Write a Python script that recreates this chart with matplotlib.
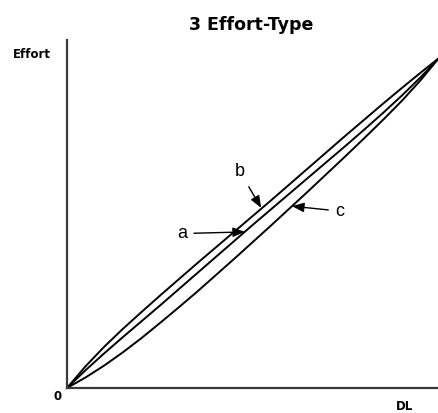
import matplotlib.pyplot as plt

# --- data (DL vs Effort, both scaled 0..1) ---
dl = [0.0, 0.05, 0.1, 0.15, 0.2, 0.25, 0.3, 0.35, 0.4, 0.45, 0.5,
      0.55, 0.6, 0.65, 0.7, 0.75, 0.8, 0.85, 0.9, 0.95, 1.0]
effort_a = [0.0, 0.054, 0.105, 0.154, 0.202, 0.250, 0.299, 0.348, 0.397, 0.446, 0.495,
            0.543, 0.591, 0.639, 0.687, 0.735, 0.784, 0.834, 0.886, 0.941, 1.0]
effort_b = [0.0, 0.066, 0.125, 0.179, 0.230, 0.280, 0.329, 0.378, 0.426, 0.474, 0.522,
            0.570, 0.619, 0.668, 0.717, 0.766, 0.814, 0.862, 0.909, 0.955, 1.0]
effort_c = [0.0, 0.032, 0.068, 0.108, 0.151, 0.197, 0.244, 0.292, 0.342, 0.392, 0.443,
            0.494, 0.546, 0.598, 0.651, 0.704, 0.758, 0.813, 0.870, 0.932, 1.0]

title = '3 Effort-Type'
y_label = 'Effort'
x_label = 'DL'

W, H = 439, 413
fig = plt.figure(figsize=(W / 100, H / 100), dpi=100)
ax = fig.add_axes([67 / W, 25 / H, 372 / W, 348 / H])

ax.set_xlim(0, 1)
ax.set_ylim(0, 348 / 330)

for ys in (effort_a, effort_b, effort_c):
    ax.plot(dl, ys, color='black', lw=1.4, clip_on=False,
            solid_capstyle='round', solid_joinstyle='round')

for side in ('top', 'right'):
    ax.spines[side].set_visible(False)
for side in ('left', 'bottom'):
    ax.spines[side].set_color('#3a3a3a')
    ax.spines[side].set_linewidth(1.6)
ax.set_xticks([])
ax.set_yticks([])

# curve labels with arrows
arrow = dict(arrowstyle='-|>,head_length=0.55,head_width=0.22', color='black',
             lw=1.0, shrinkA=3, shrinkB=0)
lab_font = dict(family='Liberation Sans', fontsize=13, color='black',
                ha='center', va='center')
ax.annotate('a', xy=(0.478, 0.473), xytext=(0.309, 0.468), arrowprops=arrow, **lab_font)
ax.annotate('b', xy=(0.522, 0.546), xytext=(0.465, 0.655), arrowprops=arrow, **lab_font)
ax.annotate('c', xy=(0.605, 0.551), xytext=(0.733, 0.536), arrowprops=arrow, **lab_font)

# titles / axis words placed like the reference
fig.text(251 / W, 1 - 25 / H, title, ha='center', va='center',
         fontsize=12.5, fontweight='bold')
fig.text(32 / W, 1 - 55 / H, y_label, ha='center', va='center',
         fontsize=8.5, fontweight='bold')
fig.text(58 / W, 1 - 397 / H, '0', ha='center', va='center',
         fontsize=8.5, fontweight='bold')
fig.text(405 / W, 1 - 407 / H, x_label, ha='center', va='center',
         fontsize=8.5, fontweight='bold')

fig.savefig('out.png', dpi=100)
